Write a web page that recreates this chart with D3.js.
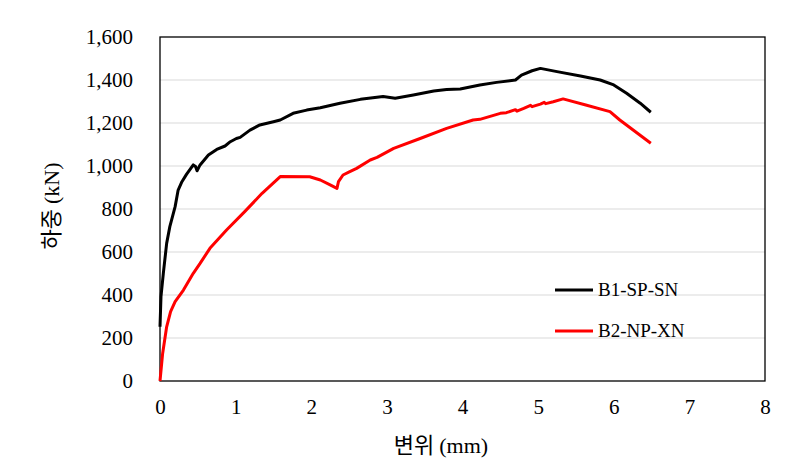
<!DOCTYPE html>
<html><head><meta charset="utf-8">
<script src="https://cdn.jsdelivr.net/npm/d3@7"></script>
<style>body{margin:0;background:#fff}</style>
</head><body><svg id="c" width="810" height="473"></svg>
<script>
const xTicks = [0,1,2,3,4,5,6,7,8];
const yTicks = [0,200,400,600,800,1000,1200,1400,1600];
const seriesNames = ["B1-SP-SN","B2-NP-XN"];
const seriesColors = ["#000000","#ff0000"];
const b1Disp = [0,0.013,0.044,0.088,0.13,0.2,0.24,0.29,0.35,0.44,0.47,0.49,0.53,0.64,0.75,0.86,0.93,1.01,1.06,1.19,1.32,1.50,1.59,1.76,1.94,2.12,2.38,2.65,2.95,3.11,3.35,3.62,3.79,3.97,4.23,4.45,4.70,4.78,4.92,5.03,5.25,5.56,5.82,6.0,6.17,6.35,6.49];
const b1Load = [252,392,501,640,718,811,888,927,961,1005,998,978,1005,1051,1077,1093,1113,1128,1133,1167,1191,1206,1214,1245,1260,1271,1292,1310,1323,1315,1330,1349,1356,1358,1377,1389,1400,1423,1443,1454,1439,1419,1400,1377,1338,1292,1250];
const b2Disp = [0,0.035,0.088,0.14,0.2,0.31,0.44,0.53,0.66,0.88,1.12,1.35,1.59,1.98,2.12,2.25,2.34,2.36,2.42,2.51,2.60,2.78,2.87,3.09,3.44,3.79,4.14,4.23,4.50,4.58,4.70,4.72,4.81,4.90,4.92,5.03,5.08,5.10,5.20,5.33,5.63,5.95,6.08,6.49];
const b2Load = [0,128,252,323,369,423,501,547,617,702,788,873,951,950,935,912,896,927,958,974,989,1028,1040,1082,1128,1175,1214,1217,1245,1248,1262,1255,1268,1282,1276,1288,1296,1290,1299,1312,1284,1253,1214,1106];

const svg = d3.select("#c");
const L=160,R=765,T=37,B=381;
const x = d3.scaleLinear().domain([0,8]).range([L,R]);
const y = d3.scaleLinear().domain([0,1600]).range([B,T]);
const serif = "'Liberation Serif','Times New Roman',serif";
const kor = "'Noto Sans CJK KR','Noto Sans',sans-serif";

svg.append("g").selectAll("line").data(yTicks.filter(d=>d>0&&d<1600)).join("line")
  .attr("x1",L).attr("x2",R).attr("y1",d=>y(d)).attr("y2",d=>y(d))
  .attr("stroke","#d9d9d9").attr("stroke-width",1.2);

const ya = svg.append("g").attr("transform",`translate(${L},0)`)
  .call(d3.axisLeft(y).tickValues(yTicks).tickSize(0).tickPadding(27).tickFormat(d3.format(",")));
const xa = svg.append("g").attr("transform",`translate(0,${B})`)
  .call(d3.axisBottom(x).tickValues(xTicks).tickSize(0).tickPadding(18).tickFormat(d3.format("d")));
[ya,xa].forEach(a=>{a.select(".domain").remove();
  a.selectAll("text").attr("font-family",serif).attr("font-size",21).attr("fill","#000");});

svg.append("rect").attr("x",L).attr("y",T).attr("width",R-L).attr("height",B-T)
  .attr("fill","none").attr("stroke","#000").attr("stroke-width",1.3);

const line = d3.line().x(d=>x(d[0])).y(d=>y(d[1]));
const data = [d3.zip(b1Disp,b1Load), d3.zip(b2Disp,b2Load)];
data.forEach((d,i)=>{
  svg.append("path").datum(d).attr("d",line).attr("fill","none")
    .attr("stroke",seriesColors[i]).attr("stroke-width",3).attr("stroke-linejoin","round");
});

const legY=[290,331];
seriesNames.forEach((n,i)=>{
  svg.append("line").attr("x1",555).attr("x2",593).attr("y1",legY[i]).attr("y2",legY[i])
    .attr("stroke",seriesColors[i]).attr("stroke-width",3);
  svg.append("text").attr("x",598).attr("y",legY[i]+6).attr("font-family",serif)
    .attr("font-size",19).text(n);
});

const xt = svg.append("text").attr("x",441).attr("y",453).attr("text-anchor","middle").attr("font-size",22);
xt.append("tspan").attr("font-family",kor).text("변위 ");
xt.append("tspan").attr("font-family",serif).text("(mm)");
const yt = svg.append("text").attr("transform","translate(59,206) rotate(-90)").attr("text-anchor","middle").attr("font-size",22);
yt.append("tspan").attr("font-family",kor).text("하중 ");
yt.append("tspan").attr("font-family",serif).text("(kN)");
</script></body></html>
